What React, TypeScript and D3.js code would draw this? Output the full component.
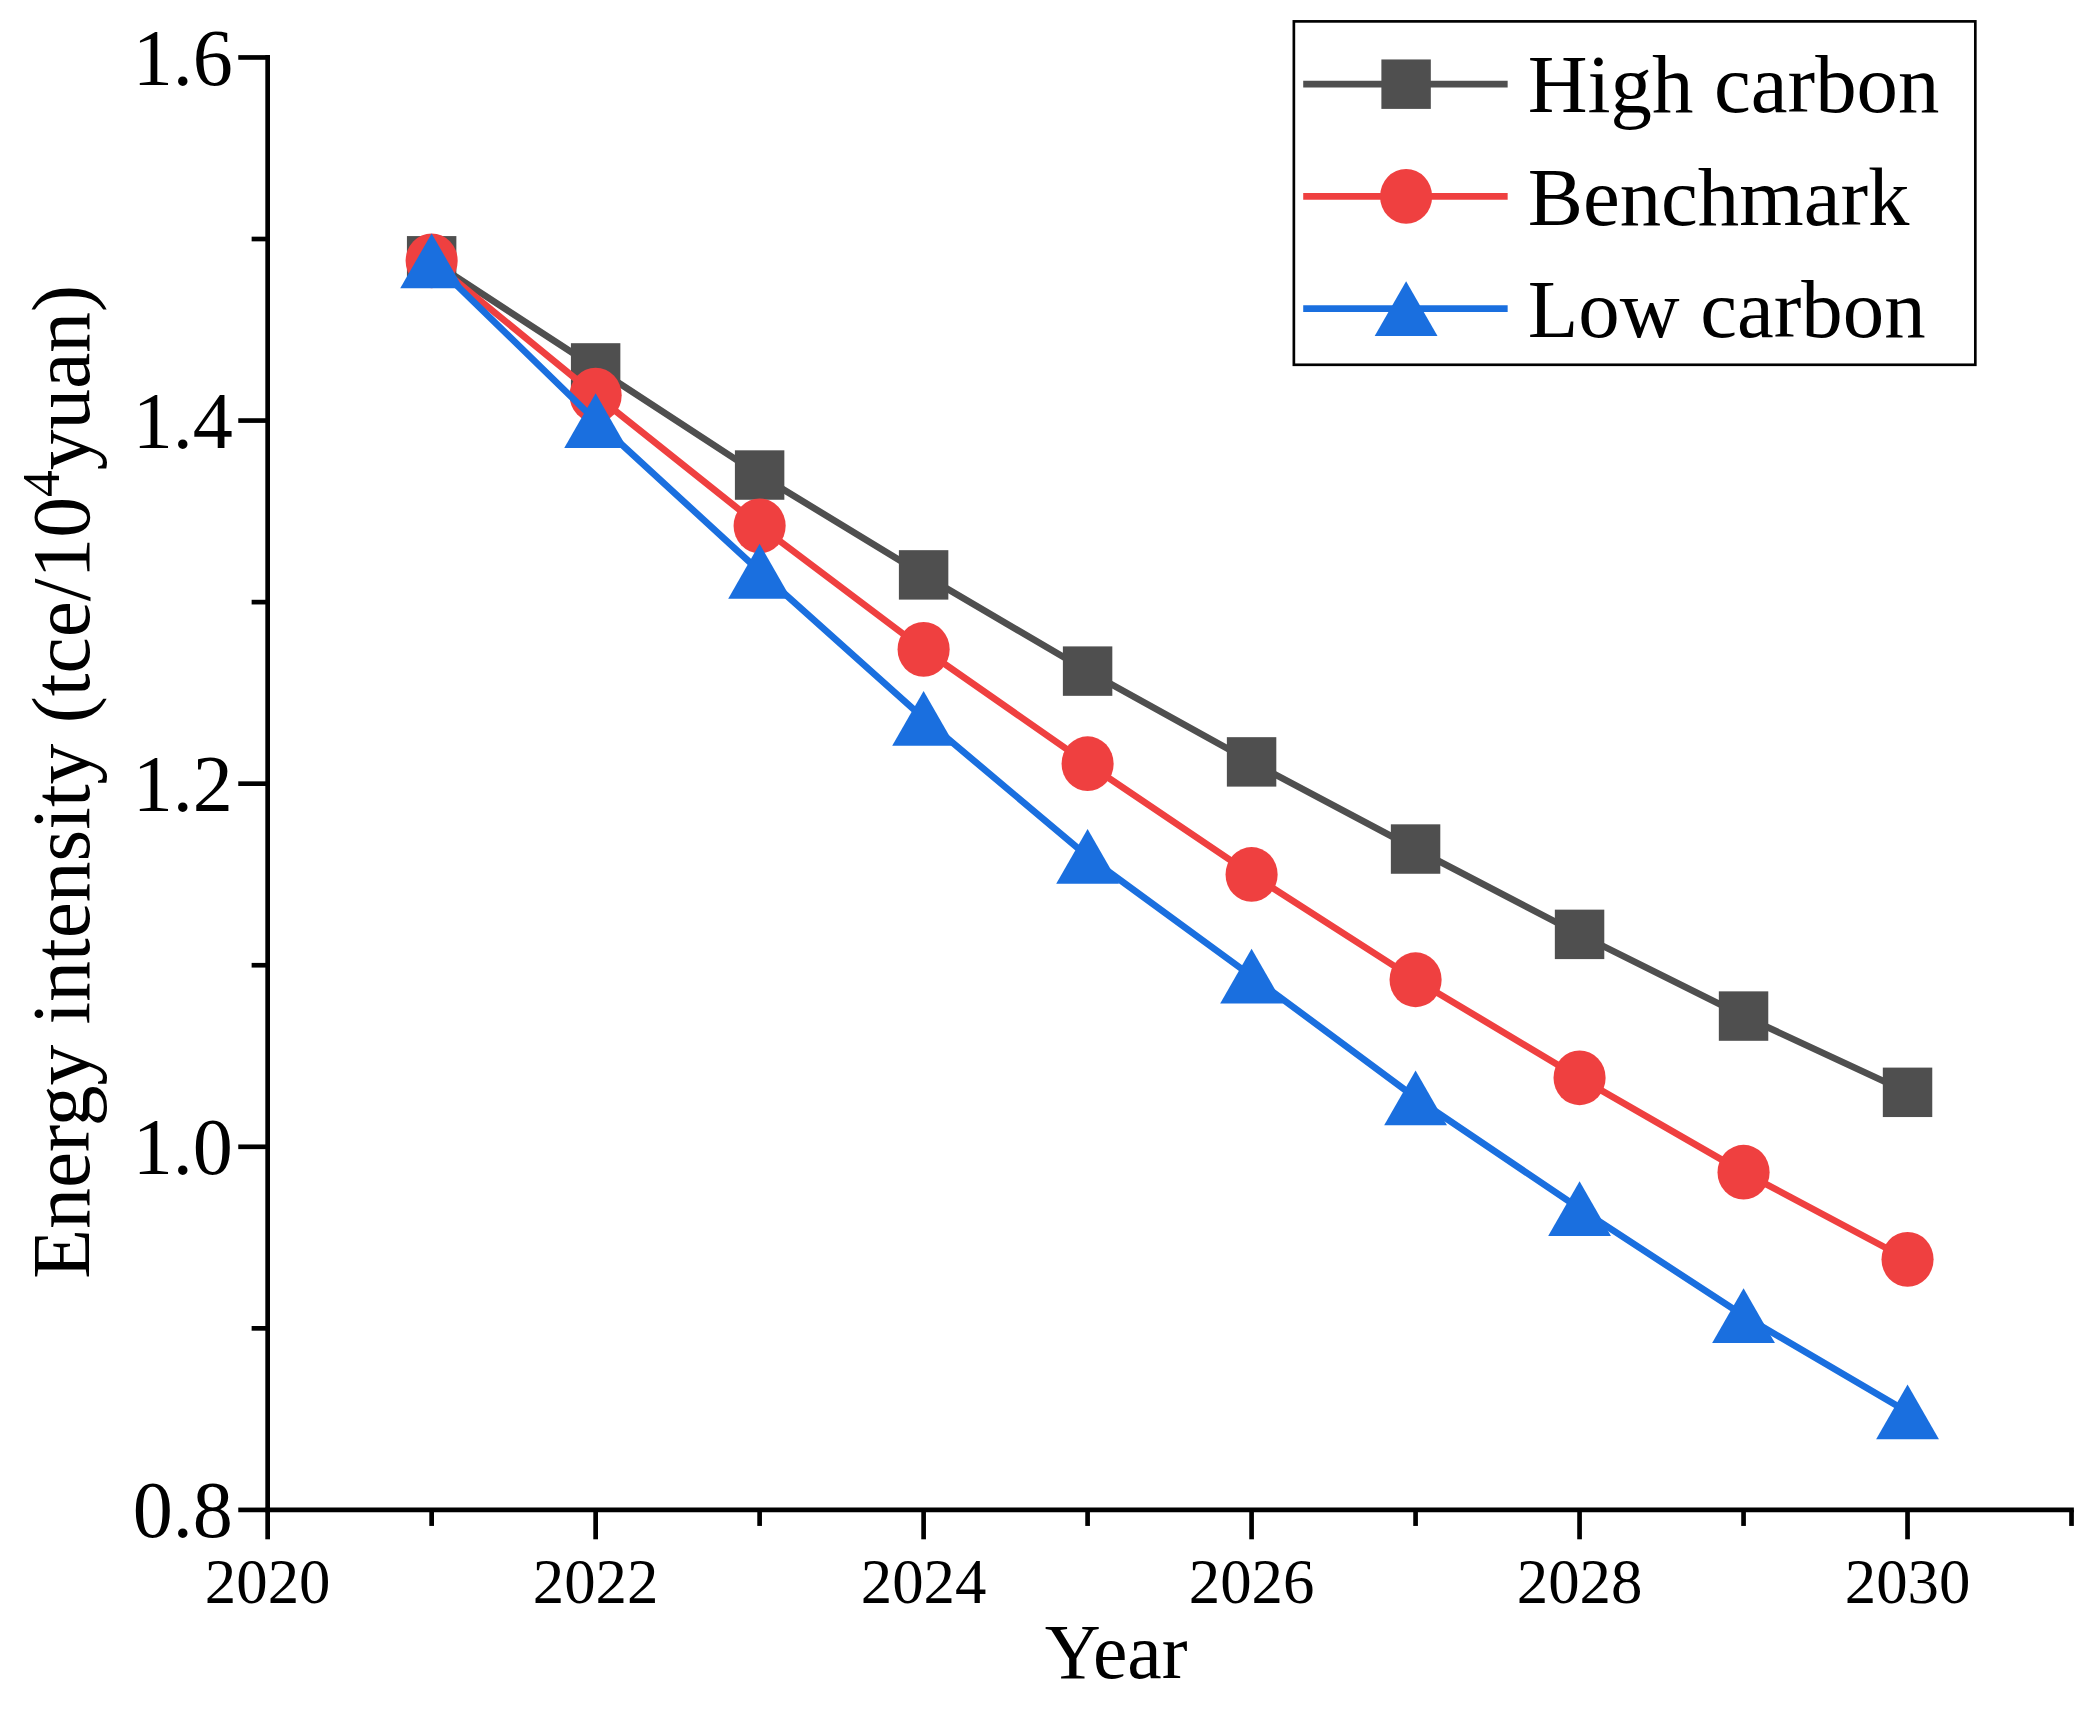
import React from 'react';
import * as d3 from 'd3';

// values
const years = [2021, 2022, 2023, 2024, 2025, 2026, 2027, 2028, 2029, 2030];
const highCarbon = [1.488, 1.429, 1.370, 1.315, 1.262, 1.212, 1.164, 1.117, 1.072, 1.030];
const benchmark = [1.488, 1.414, 1.342, 1.274, 1.211, 1.150, 1.092, 1.038, 0.986, 0.938];
const lowCarbon = [1.488, 1.400, 1.317, 1.236, 1.160, 1.094, 1.027, 0.966, 0.907, 0.854];

const seriesNames = ['High carbon', 'Benchmark', 'Low carbon'];
const seriesColors = ['#4f4f4f', '#ef4040', '#1a6fdf'];
const seriesShapes = ['square', 'circle', 'triangle'];

const xMajorTicks = [2020, 2022, 2024, 2026, 2028, 2030];
const xMinorTicks = [2021, 2023, 2025, 2027, 2029, 2031];
const yMajorTicks = [0.8, 1.0, 1.2, 1.4, 1.6];
const yMinorTicks = [0.9, 1.1, 1.3, 1.5];

const W = 1568;
const H = 1279;
const plot = { left: 200, right: 1550, top: 43, bottom: 1130 };

const tickFont = '"Liberation Serif", "Times New Roman", serif';
const labelFont = '"Liberation Serif", "Times New Roman", serif';

const Marker: React.FC<{ shape: string; x: number; y: number; color: string }> = ({ shape, x, y, color }) => {
  if (shape === 'square') {
    return <rect x={x - 18.5} y={y - 18.5} width={37} height={37} fill={color} />;
  }
  if (shape === 'circle') {
    return <ellipse cx={x} cy={y} rx={19.5} ry={20.5} fill={color} />;
  }
  const w = 47;
  const h = 41;
  return (
    <path
      d={`M${x},${y - h / 2}L${x + w / 2},${y + h / 2}L${x - w / 2},${y + h / 2}Z`}
      fill={color}
    />
  );
};

export default function App() {
  const xScale = d3.scaleLinear().domain([2020, 2031]).range([plot.left, plot.right]);
  const yScale = d3.scaleLinear().domain([0.8, 1.6]).range([plot.bottom, plot.top]);

  const allSeries = [highCarbon, benchmark, lowCarbon];
  const line = d3
    .line<number>()
    .x((_, i) => xScale(years[i]))
    .y((d) => yScale(d));

  const legend = { x: 968, y: 16, w: 510, h: 257 };
  const legendRows = [63, 147, 231];

  return (
    <svg
      width={2096}
      height={1709}
      viewBox={`0 0 ${W} ${H}`}
      style={{ position: 'absolute', left: 0, top: 0, background: '#fff' }}
    >
      <rect x={0} y={0} width={W} height={H} fill="#fff" />

      {/* series */}
      {allSeries.map((vals, s) => (
        <g key={seriesNames[s]}>
          <path d={line(vals) || ''} fill="none" stroke={seriesColors[s]} strokeWidth={5} />
          {vals.map((v, i) => (
            <Marker key={i} shape={seriesShapes[s]} x={xScale(years[i])} y={yScale(v)} color={seriesColors[s]} />
          ))}
        </g>
      ))}

      {/* axes */}
      <g stroke="#000" strokeWidth={3.5} strokeLinecap="square">
        <line x1={plot.left} y1={plot.top} x2={plot.left} y2={plot.bottom} />
        <line x1={plot.left} y1={plot.bottom} x2={plot.right} y2={plot.bottom} />
      </g>
      <g stroke="#000" strokeWidth={3.5}>
        {yMajorTicks.map((t) => (
          <line key={t} x1={plot.left - 22} x2={plot.left} y1={yScale(t)} y2={yScale(t)} />
        ))}
        {yMinorTicks.map((t) => (
          <line key={t} x1={plot.left - 12} x2={plot.left} y1={yScale(t)} y2={yScale(t)} />
        ))}
        {xMajorTicks.map((t) => (
          <line key={t} x1={xScale(t)} x2={xScale(t)} y1={plot.bottom} y2={plot.bottom + 22} />
        ))}
        {xMinorTicks.map((t) => (
          <line key={t} x1={xScale(t)} x2={xScale(t)} y1={plot.bottom} y2={plot.bottom + 12} />
        ))}
      </g>

      {/* tick labels */}
      <g fontFamily={tickFont} fontSize={60} fill="#000" textAnchor="end">
        {yMajorTicks.map((t) => (
          <text key={t} x={plot.left - 26} y={yScale(t)} dy="0.34em">
            {d3.format('.1f')(t)}
          </text>
        ))}
      </g>
      <g fontFamily={tickFont} fontSize={47} fill="#000" textAnchor="middle">
        {xMajorTicks.map((t) => (
          <text key={t} x={xScale(t)} y={1200}>
            {t}
          </text>
        ))}
      </g>

      {/* axis titles */}
      <text x={835} y={1256} fontFamily={labelFont} fontSize={58} textAnchor="middle" fill="#000">
        Year
      </text>
      <text
        transform={`translate(66, 585) rotate(-90)`}
        fontFamily={labelFont}
        fontSize={61}
        textAnchor="middle"
        fill="#000"
      >
        Energy intensity (tce/10
        <tspan fontSize={40} dy={-22}>4</tspan>
        <tspan dy={22}>yuan)</tspan>
      </text>

      {/* legend */}
      <rect x={legend.x} y={legend.y} width={legend.w} height={legend.h} fill="#fff" stroke="#000" strokeWidth={2} />
      {seriesNames.map((name, s) => (
        <g key={name}>
          <line x1={975} x2={1128} y1={legendRows[s]} y2={legendRows[s]} stroke={seriesColors[s]} strokeWidth={5} />
          <Marker shape={seriesShapes[s]} x={1052} y={legendRows[s]} color={seriesColors[s]} />
          <text x={1143} y={legendRows[s]} dy="0.34em" fontFamily={labelFont} fontSize={62} fill="#000">
            {name}
          </text>
        </g>
      ))}
    </svg>
  );
}
